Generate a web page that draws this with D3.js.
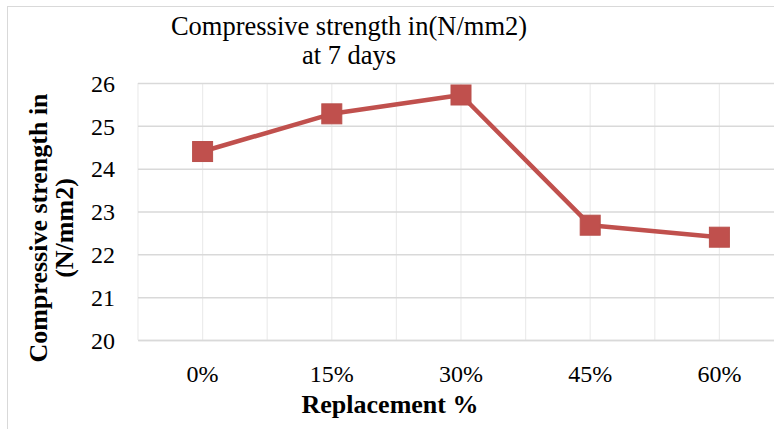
<!DOCTYPE html>
<html><head><meta charset="utf-8">
<script src="https://cdn.jsdelivr.net/npm/d3@7"></script>
<style>
html,body{margin:0;padding:0;background:#fff;overflow:hidden}
svg{display:block}
</style></head><body>
<svg id="c" width="774" height="429"></svg>
<script>
const categories = ["0%", "15%", "30%", "45%", "60%"];
const values = [24.4, 25.28, 25.72, 22.68, 22.4];
const yTicks = [20, 21, 22, 23, 24, 25, 26];
const titleLines = ["Compressive strength in(N/mm2)", "at 7 days"];
const yTitleLines = ["Compressive strength in", "(N/mm2)"];
const xTitle = "Replacement %";

(function () {
const FONT = '"Liberation Serif","Times New Roman",Times,serif';
const svg = d3.select("#c");
svg.append("rect").attr("x", 7.5).attr("y", 6.5).attr("width", 800).attr("height", 440)
  .attr("fill", "#fff").attr("stroke", "#d9d9d9").attr("stroke-width", 1);

const pL = 138, pR = 784, pT = 83, pB = 340;
const x = d3.scaleBand().domain(categories).range([pL, pR]).padding(0);
const y = d3.scaleLinear().domain([20, 26]).range([pB, pT]);
const bw = x.bandwidth();

const vpos = [];
categories.forEach(c => { vpos.push(x(c)); vpos.push(x(c) + bw / 2); });
vpos.push(pR);
svg.append("g").selectAll("line").data(vpos).join("line")
  .attr("x1", d => d).attr("x2", d => d).attr("y1", pT).attr("y2", pB)
  .attr("stroke", "#ececec").attr("stroke-width", 1.2);

const yAxis = svg.append("g").attr("transform", `translate(${pL},0)`)
  .call(d3.axisLeft(y).tickValues(yTicks).tickSize(-(pR - pL)).tickPadding(23).tickFormat(d3.format("d")));
yAxis.select(".domain").remove();
yAxis.selectAll(".tick line").attr("stroke", "#d9d9d9").attr("stroke-width", 1.5);
yAxis.selectAll(".tick text").style("font-family", FONT).style("font-size", "24px").attr("fill", "#000").attr("dy", "0.34em");

const xAxis = svg.append("g").attr("transform", `translate(0,${pB})`)
  .call(d3.axisBottom(x).tickSize(0).tickPadding(0));
xAxis.select(".domain").attr("stroke", "#d9d9d9").attr("stroke-width", 1.5);
xAxis.selectAll(".tick text").style("font-family", FONT).style("font-size", "24px").attr("fill", "#000")
  .attr("y", 42).attr("dy", 0);

const cx = (d, i) => x(categories[i]) + bw / 2;
svg.append("path").datum(values)
  .attr("fill", "none").attr("stroke", "#c0504d").attr("stroke-width", 4.5)
  .attr("stroke-linejoin", "round")
  .attr("d", d3.line().x(cx).y(d => y(d)));

const ms = 20;
svg.append("g").selectAll("rect").data(values).join("rect")
  .attr("x", (d, i) => cx(d, i) - ms / 2).attr("y", d => y(d) - ms / 2)
  .attr("width", ms).attr("height", ms)
  .attr("fill", "#c0504d").attr("stroke", "#b9504c").attr("stroke-width", 1);

svg.append("g").selectAll("text").data(titleLines).join("text")
  .attr("x", 349).attr("y", (d, i) => 35 + i * 29)
  .attr("text-anchor", "middle").style("font-family", FONT).style("font-size", "26.5px").text(d => d);

svg.append("g").selectAll("text").data(yTitleLines).join("text")
  .attr("transform", (d, i) => `translate(${47 + i * 26},228) rotate(-90)`)
  .attr("text-anchor", "middle").style("font-family", FONT).style("font-size", "26px")
  .attr("font-weight", "bold").text(d => d);

svg.append("text").attr("x", 390).attr("y", 413).attr("text-anchor", "middle")
  .style("font-family", FONT).style("font-size", "26px").attr("font-weight", "bold").text(xTitle);
})();
</script>
</body></html>
